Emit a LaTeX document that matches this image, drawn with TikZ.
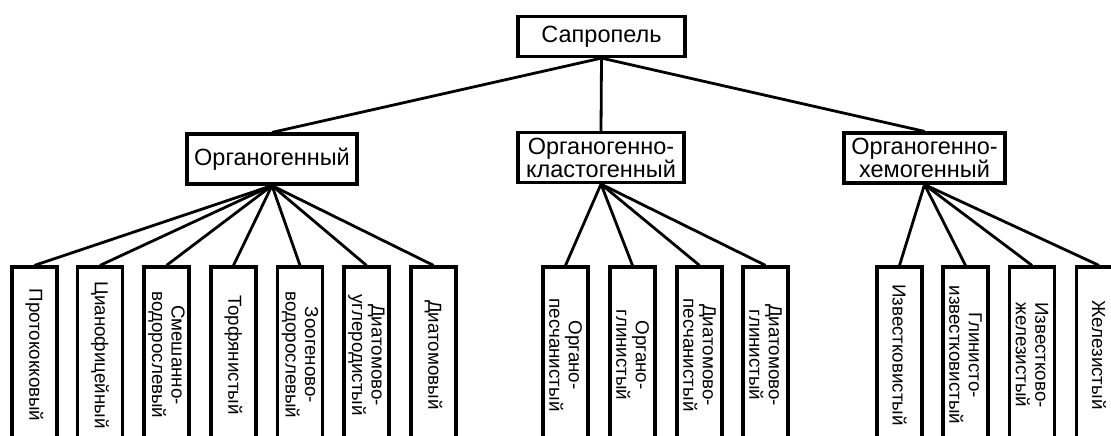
\documentclass[tikz,border=0pt]{standalone}
\usepackage{fontspec}
\setmainfont{Liberation Sans}

\begin{document}
\begin{tikzpicture}[x=1pt, y=-1pt,
    box/.style={draw, line width=3.2pt, inner sep=0pt, align=center},
    topbox/.style={box, minimum width=167pt, minimum height=40pt, font=\fontsize{23.5}{24}\selectfont},
    midbox/.style={box, minimum width=#1, minimum height=50pt, font=\fontsize{23.5}{23}\selectfont},
    leafbox/.style={box, rotate=-90, minimum width=176pt, minimum height=45pt, font=\fontsize{18.8}{19.5}\selectfont},
    link/.style={line width=2.8pt}]
                % Рамка рисунка
                \useasboundingbox (0,0) rectangle (1111,436);
                \clip (0,0) rectangle (1111,436);

                % Верхний уровень
                \node[topbox] (sapropel) at (601.5,36.5) {Сапропель};

                % --- ТИПЫ ---
                \node[midbox=170pt] (organ) at (272,159) {Органогенный};
                \node[midbox=166pt] (klast) at (601,157.5) {Органогенно-\\кластогенный};
                \node[midbox=161pt] (chemo) at (924.5,158) {Органогенно-\\хемогенный};

                \draw[link] (sapropel.south) -- (organ.north);
                \draw[link] (sapropel.south) -- (klast.north);
                \draw[link] (sapropel.south) -- (chemo.north);

                % --- ВИДЫ: органогенный ---
                \node[leafbox] (prot) at (34.5,355) {Протококковый};
                \node[leafbox] (cyan) at (100,355) {Цианофицейный};
                \node[leafbox] (mixed) at (166.5,355) {Смешанно-\\водорослевый};
                \node[leafbox] (peat) at (233.5,355) {Торфянистый};
                \node[leafbox] (zoo) at (300,355) {Зоогеново-\\водорослевый};
                \node[leafbox] (diacarb) at (366.5,355) {Диатомово-\\углеродистый};
                \node[leafbox] (diat) at (433.5,355) {Диатомовый};

                \draw[link] (organ.south) -- (prot.west);
                \draw[link] (organ.south) -- (cyan.west);
                \draw[link] (organ.south) -- (mixed.west);
                \draw[link] (organ.south) -- (peat.west);
                \draw[link] (organ.south) -- (zoo.west);
                \draw[link] (organ.south) -- (diacarb.west);
                \draw[link] (organ.south) -- (diat.west);

                % --- ВИДЫ: органогенно-кластогенный ---
                \node[leafbox] (orgsand) at (565.5,355) {Органо-\\песчанистый};
                \node[leafbox] (orgclay) at (632.5,355) {Органо-\\глинистый};
                \node[leafbox] (diasand) at (699.5,355) {Диатомово-\\песчанистый};
                \node[leafbox] (diaclay) at (765.5,355) {Диатомово-\\глинистый};

                \draw[link] (klast.south) -- (orgsand.west);
                \draw[link] (klast.south) -- (orgclay.west);
                \draw[link] (klast.south) -- (diasand.west);
                \draw[link] (klast.south) -- (diaclay.west);

                % --- ВИДЫ: органогенно-хемогенный ---
                \node[leafbox] (lime) at (899.5,355) {Известковистый};
                \node[leafbox] (claylime) at (965.5,355) {Глинисто-\\известковистый};
                \node[leafbox] (limeiron) at (1032,355) {Известково-\\железистый};
                \node[leafbox] (iron) at (1099,355) {Железистый};

                \draw[link] (chemo.south) -- (lime.west);
                \draw[link] (chemo.south) -- (claylime.west);
                \draw[link] (chemo.south) -- (limeiron.west);
                \draw[link] (chemo.south) -- (iron.west);

            \end{tikzpicture}
\end{document}
